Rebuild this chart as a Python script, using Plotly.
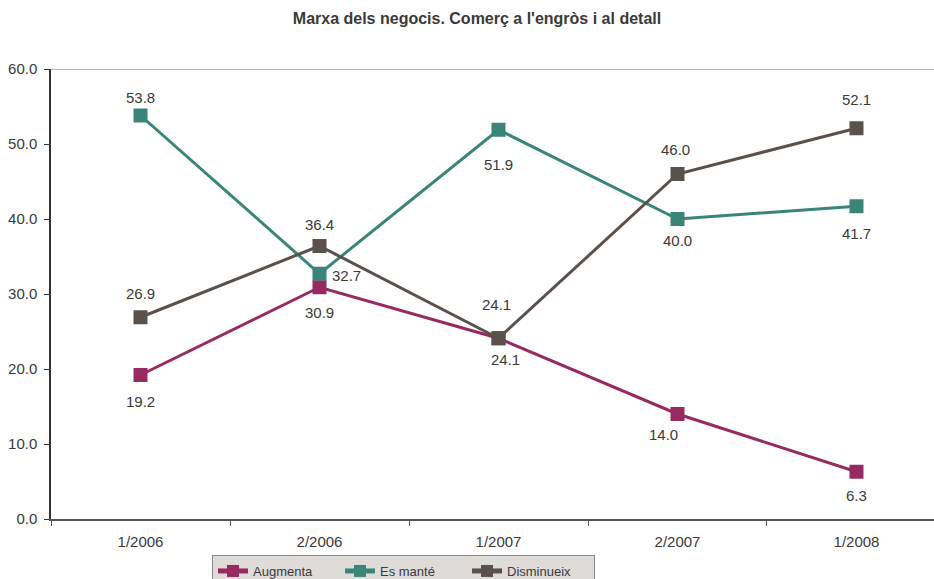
import plotly.graph_objects as go

# Periods and series values (percentages)
periods = ["1/2006", "2/2006", "1/2007", "2/2007", "1/2008"]
augmenta = [19.2, 30.9, 24.1, 14.0, 6.3]
es_mante = [53.8, 32.7, 51.9, 40.0, 41.7]
disminueix = [26.9, 36.4, 24.1, 46.0, 52.1]

series = [
    ("Augmenta", augmenta, "#972a61"),
    ("Es manté", es_mante, "#3a8478"),
    ("Disminueix", disminueix, "#5a504c"),
]

# label offsets (px) per series and point: (xshift, yshift)
label_offsets = {
    "Augmenta": [(0, -26), (0, -25), (7, -21), (-14, -20), (0, -24)],
    "Es manté": [(0, 18), (27, -2), (0, -35), (0, -21), (0, -27)],
    "Disminueix": [(0, 24), (0, 22), (-2, 34), (-2, 25), (0, 29)],
}

FONT = "Liberation Sans, Arial, sans-serif"
TXT = "#3a3a3a"

fig = go.Figure()
annotations = []
for name, vals, color in series:
    fig.add_trace(go.Scatter(
        x=periods, y=vals, name=name, mode="lines+markers",
        line=dict(color=color, width=3),
        marker=dict(symbol="square", size=14, color=color),
    ))
    for i, v in enumerate(vals):
        dx, dy = label_offsets[name][i]
        annotations.append(dict(
            x=periods[i], y=v, xref="x", yref="y", text=f"{v:.1f}",
            showarrow=False, xshift=dx, yshift=dy,
            font=dict(family=FONT, size=15, color=TXT),
        ))

fig.update_layout(
    width=934, height=579,
    margin=dict(l=51, r=0, t=69, b=60, autoexpand=False),
    paper_bgcolor="white", plot_bgcolor="white",
    title=dict(
        text="<b>Marxa dels negocis. Comerç a l'engròs i al detall</b>",
        x=477 / 934, xref="container", xanchor="center",
        y=1 - 18 / 579, yref="container", yanchor="middle",
        font=dict(family=FONT, size=16, color=TXT),
    ),
    font=dict(family=FONT, size=15, color=TXT),
    showlegend=True,
    legend=dict(
        orientation="h", x=(212 - 51) / 883, xanchor="left",
        y=(519 - 555) / 450, yanchor="top",
        bgcolor="#dedbd8", bordercolor="#8a8a8a", borderwidth=1,
        font=dict(family=FONT, size=13, color=TXT),
        itemsizing="constant", entrywidth=82,
    ),
    annotations=annotations,
    shapes=[dict(type="line", xref="paper", yref="y", x0=0, x1=1, y0=60, y1=60,
                 line=dict(color="#ad9f9f", width=1.5))],
)

fig.update_xaxes(
    type="category", range=[-0.5, 4.433], tickson="boundaries",
    showline=True, linecolor="#555555", linewidth=1.5,
    ticks="outside", ticklen=5, tickcolor="#555555",
    ticklabelstandoff=8,
    showgrid=False, zeroline=False,
    tickfont=dict(family=FONT, size=15, color=TXT),
)
fig.update_yaxes(
    range=[0, 60], tickvals=[0, 10, 20, 30, 40, 50, 60], tickformat=".1f",
    showline=True, linecolor="#333333", linewidth=1.5,
    ticks="outside", ticklen=5, tickcolor="#333333",
    ticklabelstandoff=4,
    showgrid=False, zeroline=False,
    tickfont=dict(family=FONT, size=15, color=TXT),
)

fig.write_html("out.html")
